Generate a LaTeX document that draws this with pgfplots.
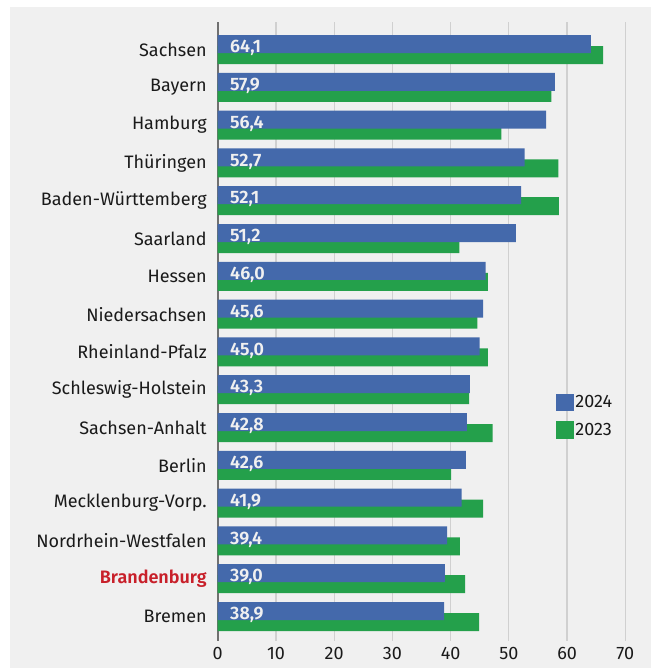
\documentclass[border=0pt]{standalone}
\usepackage{fontspec}
\setmainfont{Fira Sans}[BoldFont={Fira Sans SemiBold}]
\usepackage{pgfplots}
\pgfplotsset{compat=1.18}
\usepackage{pgfplotstable}
\definecolor{bg}{HTML}{F0F0F0}
\definecolor{blue24}{HTML}{4469AB}
\definecolor{green23}{HTML}{24A04B}
\definecolor{bbred}{HTML}{C8202A}
\definecolor{gridc}{HTML}{D0D0D0}
\definecolor{axc}{HTML}{707070}
\definecolor{txt}{HTML}{1A1A1A}
\definecolor{labc}{HTML}{F0F0F0}

\pgfplotstableread{
pos v24 v23
15 64.1 66.2
14 57.9 57.3
13 56.4 48.7
12 52.7 58.5
11 52.1 58.6
10 51.2 41.5
9 46.0 46.4
8 45.6 44.6
7 45.0 46.4
6 43.3 43.2
5 42.8 47.2
4 42.6 40.1
3 41.9 45.6
2 39.4 41.6
1 39.0 42.5
0 38.9 44.9
}\datatable

\begin{document}
\begin{tikzpicture}[x=1pt,y=1pt]
\fill[bg] (10,0) rectangle (651,661);
\begin{axis}[
  at={(217.7pt,27pt)}, anchor=south west,
  scale only axis, width=407.6pt, height=619pt,
  xmin=0, xmax=70, ymin=-0.648, ymax=15.728,
  separate axis lines,
  axis x line*=bottom, axis y line*=left,
  x axis line style={draw=none},
  y axis line style={draw=axc, line width=1.6pt},
  xtick={0,10,...,70}, ytick={0,...,15},
  yticklabels={Bremen, {\color{bbred}\bfseries Brandenburg}, Nordrhein-Westfalen, Mecklenburg-Vorp., Berlin, Sachsen-Anhalt, Schleswig-Holstein, Rheinland-Pfalz, Niedersachsen, Hessen, Saarland, Baden-Württemberg, Thüringen, Hamburg, Bayern, Sachsen},
  major tick length=0pt,
  xmajorgrids, grid style={draw=gridc, line width=1.3pt},
  tick label style={font=\fontsize{18}{21}\selectfont, text=txt},
  yticklabel style={xshift=-7.5pt},
  xticklabel style={yshift=-3pt},
  /pgf/number format/assume math mode=true,
  reverse legend,
  legend style={at={(rel axis cs:0.83,0.400)}, anchor=north west, draw=none, fill=none,
    font=\fontsize{18}{21}\selectfont, text=txt, inner sep=0pt, row sep=10pt,
    nodes={inner sep=1.5pt}},
  legend cell align=left,
]
\addplot[xbar, bar width=18pt, bar shift=-5.5pt, fill=green23, draw=none,
  legend image code/.code={\fill[green23] (0pt,-8.85pt) rectangle (17.7pt,8.85pt);}]
  table[x=v23, y=pos]{\datatable};
\addlegendentry{2023}
\addplot[xbar, bar width=18pt, bar shift=5.5pt, fill=blue24, draw=none,
  legend image code/.code={\fill[blue24] (0pt,-8.85pt) rectangle (17.7pt,8.85pt);}]
  table[x=v24, y=pos]{\datatable};
\addlegendentry{2024}
\addplot[draw=none, forget plot, point meta=explicit,
  nodes near coords={\pgfmathprintnumber[fixed,fixed zerofill,precision=1,use comma]{\pgfplotspointmeta}},
  nodes near coords style={anchor=west, xshift=9pt, yshift=1.5pt, font=\fontsize{18}{21}\selectfont\bfseries, text=labc}]
  table[x expr=0, y=pos, meta=v24]{\datatable};
\end{axis}
\path[use as bounding box] (0,0) rectangle (651,668);
\end{tikzpicture}
\end{document}
